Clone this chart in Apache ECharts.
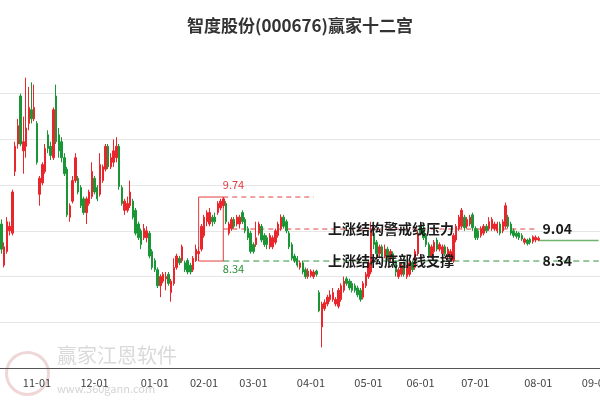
<!DOCTYPE html>
<html>
<head>
<meta charset="utf-8">
<script src="https://cdn.jsdelivr.net/npm/echarts@6/dist/echarts.min.js"></script>
<style>html,body{margin:0;padding:0;background:#fff;}#c{width:600px;height:400px;}</style>
</head>
<body>
<div id="c"></div>
<script>
// Trading days per month (Oct 2024 - early Sep 2025)
const tradingDays = [
  ['2024-10', [15,16,17,18,21,22,23,24,25,28,29,30,31]],
  ['2024-11', [1,4,5,6,7,8,11,12,13,14,15,18,19,20,21,22,25,26,27,28,29]],
  ['2024-12', [2,3,4,5,6,9,10,11,12,13,16,17,18,19,20,23,24,25,26,27,30,31]],
  ['2025-01', [2,3,6,7,8,9,10,13,14,15,16,17,20,21,22,23,24,27]],
  ['2025-02', [5,6,7,10,11,12,13,14,17,18,19,20,21,24,25,26,27,28]],
  ['2025-03', [3,4,5,6,7,10,11,12,13,14,17,18,19,20,21,24,25,26,27,28,31]],
  ['2025-04', [1,2,3,7,8,9,10,11,14,15,16,17,18,21,22,23,24,25,28,29,30]],
  ['2025-05', [6,7,8,9,12,13,14,15,16,19,20,21,22,23,26,27,28,29,30]],
  ['2025-06', [3,4,5,6,9,10,11,12,13,16,17,18,19,20,23,24,25,26,27,30]],
  ['2025-07', [1,2,3,4,7,8,9,10,11,14,15,16,17,18,21,22,23,24,25,28,29,30,31]],
  ['2025-08', [1,4,5,6,7,8,11,12,13,14,15,18,19,20,21,22,25,26,27,28,29]],
  ['2025-09', [1,2]]
];

// [open, close, low, high]
const candles = [
[9.15,8.6,8.5,9.25],[8.25,8.65,8.2,8.75],[8.55,9.2,8.5,9.3],[9.0,9.1,8.9,9.2],[8.95,9.85,8.9,9.9],
[10.3,10.85,10.2,10.95],[10.9,11.3,10.8,11.45],[11.95,10.9,10.85,12.0],[10.75,10.95,10.25,11.5],[10.85,11.25,10.6,12.35],
[11.35,11.7,11.2,12.15],[11.65,11.45,11.35,12.25],[11.45,11.7,11.4,12.2],[11.35,10.5,10.45,11.4],[9.8,10.15,9.55,10.2],
[10.05,10.45,10.0,10.5],[10.3,10.8,10.25,10.9],[11.1,10.8,10.7,11.2],[10.85,10.65,10.55,10.95],[10.6,11.65,10.55,11.7],
[11.95,10.95,10.9,12.2],[11.1,10.75,10.6,11.25],[10.95,10.6,10.5,11.05],[10.6,10.25,10.2,10.7],[10.35,9.35,9.3,10.4],
[9.3,9.55,9.2,9.6],[9.65,10.1,9.6,10.2],[10.1,10.6,10.05,10.7],[10.15,9.85,9.8,10.2],[9.95,9.55,9.5,10.0],
[9.7,9.4,9.35,9.75],[9.4,9.7,9.15,9.75],[9.6,9.85,9.55,9.9],[9.75,10.3,9.7,10.5],[10.15,9.85,9.8,10.2],
[9.95,9.7,9.65,10.0],[9.8,10.45,9.75,10.7],[10.1,10.4,10.05,10.45],[10.35,10.85,10.3,10.9],[10.85,10.4,10.35,10.9],
[10.4,10.6,10.35,10.7],[10.5,10.75,10.4,11.0],[10.6,10.85,10.5,11.05],[10.85,9.97,9.9,10.9],[9.95,9.6,9.55,10.0],
[9.45,9.65,9.35,9.7],[9.45,9.6,9.4,9.75],[9.55,9.85,9.5,10.1],[9.65,9.3,9.25,9.7],[9.45,8.95,8.9,9.5],
[9.15,8.85,8.8,9.2],[9.0,8.7,8.6,9.05],[8.85,9.05,8.8,9.15],[8.85,9.0,8.75,9.1],[8.95,8.45,8.4,9.0],
[8.55,8.2,8.15,8.6],[8.35,8.15,8.1,8.4],[8.15,7.8,7.75,8.2],[7.8,8.0,7.55,8.05],[7.9,8.05,7.85,8.1],
[7.95,8.0,7.7,8.1],[8.05,7.85,7.8,8.1],[7.65,7.9,7.45,7.95],[7.85,8.2,7.8,8.4],[8.2,8.45,8.15,8.5],
[8.4,8.3,8.25,8.45],[8.35,8.65,8.3,8.7],[8.3,8.15,8.1,8.35],[8.35,8.1,8.05,8.4],[8.25,8.1,8.05,8.3],
[8.15,8.4,8.1,8.45],[8.35,8.6,8.32,8.7],[8.5,8.55,8.34,8.65],[8.6,9.1,8.55,9.15],[8.9,9.3,8.85,9.35],
[9.2,9.4,9.1,9.45],[9.15,9.4,9.1,9.5],[9.3,9.2,9.1,9.35],[9.3,9.2,9.15,9.4],[9.4,9.6,9.35,9.65],
[9.5,9.65,9.45,9.7],[9.55,9.7,9.5,9.74],[9.6,9.2,9.15,9.65],[8.95,9.15,8.9,9.2],[9.05,9.25,9.0,9.3],
[9.25,9.1,9.05,9.3],[9.15,9.3,9.1,9.35],[9.15,9.3,9.05,9.35],[9.4,9.2,9.15,9.45],[9.25,9.0,8.95,9.3],
[9.05,8.85,8.8,9.1],[8.95,8.55,8.5,9.0],[8.7,8.55,8.5,8.75],[8.7,8.85,8.65,9.2],[8.95,9.15,8.9,9.2],
[9.1,8.8,8.75,9.15],[8.9,8.7,8.65,8.95],[8.85,8.7,8.6,8.9],[8.65,8.9,8.6,8.95],[8.65,8.85,8.6,8.9],
[8.75,9.0,8.7,9.05],[8.9,9.15,8.85,9.2],[9.05,9.3,9.0,9.36],[9.3,9.1,9.05,9.35],[9.2,9.0,8.95,9.25],
[8.95,8.65,8.6,9.0],[8.7,8.4,8.35,8.75],[8.45,8.35,8.3,8.5],[8.4,8.25,8.2,8.45],[8.2,8.3,8.15,8.35],
[8.3,8.1,8.05,8.35],[8.15,8.0,7.95,8.2],[8.0,8.12,7.95,8.18],[8.02,8.12,7.98,8.16],[8.0,8.1,7.95,8.15],
[8.12,8.05,8.0,8.15],[7.65,7.25,7.22,7.7],[6.9,7.4,6.45,7.45],[7.3,7.43,7.25,7.5],[7.4,7.55,7.35,7.6],
[7.5,7.6,7.45,7.7],[7.5,7.65,7.45,7.75],[7.4,7.5,7.35,7.55],[7.35,7.7,7.3,7.75],[7.5,7.8,7.45,7.85],
[7.7,7.9,7.65,8.0],[7.95,7.85,7.8,8.0],[7.9,7.75,7.7,7.95],[7.85,7.7,7.65,7.9],[7.8,7.7,7.65,7.85],
[7.75,7.6,7.55,7.8],[7.7,7.5,7.45,7.75],[7.55,7.85,7.5,7.9],[7.8,8.05,7.75,8.1],[8.0,8.3,7.95,8.35],
[8.1,9.0,8.05,9.2],[8.95,8.7,8.6,9.2],[8.75,8.5,8.45,8.8],[8.5,8.65,8.4,8.7],[8.65,8.45,8.4,8.7],
[8.45,8.6,8.4,8.7],[8.6,8.4,8.35,8.65],[8.4,8.55,8.3,8.6],[8.5,8.3,8.25,8.55],[8.3,8.1,8.0,8.35],
[8.0,8.15,7.95,8.2],[8.05,8.25,8.0,8.3],[8.2,8.05,8.0,8.3],[8.0,8.2,7.95,8.25],[8.05,8.3,8.0,8.35],
[8.3,8.15,8.1,8.35],[8.2,8.55,8.15,8.6],[8.5,8.95,8.45,9.0],[9.1,8.95,8.9,9.2],[9.05,8.85,8.8,9.15],
[8.9,8.7,8.65,8.95],[8.7,8.45,8.4,8.75],[8.45,8.65,8.4,8.7],[8.55,8.75,8.5,8.8],[8.8,8.6,8.55,8.85],
[8.6,8.7,8.55,8.75],[8.5,8.65,8.4,8.7],[8.65,8.5,8.45,8.7],[8.45,8.6,8.35,8.65],[8.4,8.55,8.34,8.6],
[8.35,8.9,8.3,8.95],[8.8,9.1,8.75,9.15],[9.05,9.3,9.0,9.35],[9.1,9.45,9.05,9.5],[9.3,9.07,9.0,9.35],
[9.1,9.25,9.05,9.3],[9.15,9.3,9.1,9.35],[9.35,9.07,9.0,9.4],[9.05,8.85,8.8,9.1],[9.0,8.85,8.8,9.05],
[8.9,9.05,8.85,9.1],[8.95,9.1,8.9,9.15],[9.1,9.0,8.95,9.15],[9.05,9.2,9.0,9.3],[9.05,9.25,9.0,9.3],
[9.05,9.15,9.0,9.2],[9.0,9.15,8.95,9.2],[9.15,8.95,8.9,9.2],[9.0,9.2,8.95,9.25],[9.1,9.55,9.05,9.62],
[9.3,9.1,9.05,9.35],[9.15,8.95,8.9,9.2],[9.0,8.9,8.85,9.05],[8.95,8.88,8.83,9.0],[8.95,8.85,8.8,8.98],
[8.9,8.82,8.78,8.95],[8.75,8.82,8.7,8.85],[8.8,8.72,8.68,8.83],[8.82,8.75,8.7,8.85],[8.77,8.87,8.72,8.9],
[8.8,8.86,8.75,8.9],[8.8,8.84,8.78,8.88]
];

// Structure levels
const boxHigh = 9.74;
const boxLow = 8.34;
const pressureLevel = 9.04;
const supportLevel = 8.34;
const lastPrice = 8.79;
const boxStartIdx = 72, boxEndIdx = 81, highLineEndIdx = 114, textIdx = 119;
const pressureText = '上涨结构警戒线压力';
const supportText = '上涨结构底部线支撑';
const titleText = '智度股份(000676)赢家十二宫';

const dates = [];
tradingDays.forEach(([ym, days]) => days.forEach(d => dates.push(ym + '-' + String(d).padStart(2, '0'))));
const lastIdx = candles.length - 1;
const endIdx = dates.length - 1;

const RED = '#e8262c', GREEN = '#1b9636';
const LINE_RED = '#e23c3c', LINE_GREEN = '#2a8f36';
const isMonthStart = (i) => i > 0 && dates[i].slice(0, 7) !== dates[i - 1].slice(0, 7);
const FONT = '"Noto Sans CJK SC", "Noto Sans", sans-serif';

// a horizontal level drawn as a line series spanning the given categories
function levelSeries(fromIdx, toIdx, value, color, type, width) {
  return {
    type: 'line', silent: true, z: 3, showSymbol: false, symbol: 'none',
    connectNulls: false, animation: false,
    lineStyle: { color: color, type: type, width: width },
    itemStyle: { color: color },
    emphasis: { disabled: true },
    data: dates.map((d, i) => (i >= fromIdx && i <= toIdx) ? value : null)
  };
}
const bigLabel = { position: 'right', color: '#1a1a1a', fontSize: 14, fontWeight: 'bold', fontFamily: FONT };

const chart = echarts.init(document.getElementById('c'));
chart.setOption({
  animation: false,
  backgroundColor: '#fff',
  title: {
    text: titleText, left: 'center', top: 12,
    textStyle: { fontSize: 17, fontWeight: 'bold', color: '#333', fontFamily: FONT }
  },
  grid: { left: 0, right: 0, top: 48, bottom: 32, containLabel: false, outerBoundsMode: 'none' },
  xAxis: {
    type: 'category', data: dates, boundaryGap: true,
    axisLine: { lineStyle: { color: '#555' } },
    axisTick: { interval: isMonthStart, length: 5, lineStyle: { color: '#555' } },
    axisLabel: { interval: isMonthStart, formatter: v => v.slice(5, 7) + '-01', color: '#444', fontSize: 11, margin: 9, fontFamily: FONT, hideOverlap: false },
    splitLine: { show: false }
  },
  yAxis: {
    type: 'value', min: 6, max: 13, interval: 1,
    axisLabel: { show: false }, axisLine: { show: false }, axisTick: { show: false },
    splitLine: { show: true, showMaxLine: false, lineStyle: { color: '#e6e6e6' } }
  },
  graphic: [
    { type: 'circle', left: 4, top: 350, shape: { r: 21 }, style: { fill: 'none', stroke: 'rgba(210,140,140,0.35)', lineWidth: 3 }, z: 0 },
    { type: 'text', left: 57, top: 345, style: { text: '赢家江恩软件', fontSize: 20, fill: 'rgba(170,170,170,0.45)', fontFamily: FONT }, z: 0 },
    { type: 'text', left: 57, top: 383, style: { text: 'www.360gann.com', fontSize: 11, fill: 'rgba(170,170,170,0.5)', fontFamily: FONT }, z: 0 }
  ],
  series: [
    levelSeries(boxEndIdx, highLineEndIdx, boxHigh, LINE_RED, [5, 4], 1),
    levelSeries(boxEndIdx, lastIdx, pressureLevel, LINE_RED, [5, 4], 1),
    levelSeries(boxEndIdx, endIdx, supportLevel, LINE_GREEN, [6, 4], 1),
    levelSeries(lastIdx, endIdx, lastPrice, '#6fb36f', 'solid', 1.5),
    {
      type: 'candlestick', z: 4,
      data: candles,
      barWidth: '72%',
      itemStyle: { color: RED, color0: GREEN, borderColor: RED, borderColor0: GREEN, borderWidth: 1 },
      markArea: {
        silent: true,
        itemStyle: { color: 'rgba(0,0,0,0)', borderColor: LINE_RED, borderWidth: 1 },
        data: [[{ coord: [dates[boxStartIdx], boxHigh] }, { coord: [dates[boxEndIdx], boxLow] }]]
      },
      markPoint: {
        silent: true, symbol: 'circle', symbolSize: 1, itemStyle: { color: 'rgba(0,0,0,0)' },
        data: [
          { coord: [dates[boxEndIdx], boxHigh], label: { show: true, formatter: boxHigh.toFixed(2), position: [0, -17], color: LINE_RED, fontSize: 11, fontFamily: FONT } },
          { coord: [dates[boxEndIdx], boxLow], label: { show: true, formatter: boxLow.toFixed(2), position: [0, 3], color: LINE_GREEN, fontSize: 11, fontFamily: FONT } },
          { coord: [dates[textIdx], pressureLevel], label: Object.assign({ show: true, formatter: pressureText, distance: 0 }, bigLabel) },
          { coord: [dates[textIdx], supportLevel], label: Object.assign({ show: true, formatter: supportText, distance: 0 }, bigLabel) },
          { coord: [dates[lastIdx + 1], pressureLevel], label: Object.assign({ show: true, formatter: pressureLevel.toFixed(2), distance: 1 }, bigLabel) },
          { coord: [dates[lastIdx + 1], supportLevel], label: Object.assign({ show: true, formatter: supportLevel.toFixed(2), distance: 1 }, bigLabel) }
        ]
      }
    }
  ]
});
</script>
</body>
</html>
